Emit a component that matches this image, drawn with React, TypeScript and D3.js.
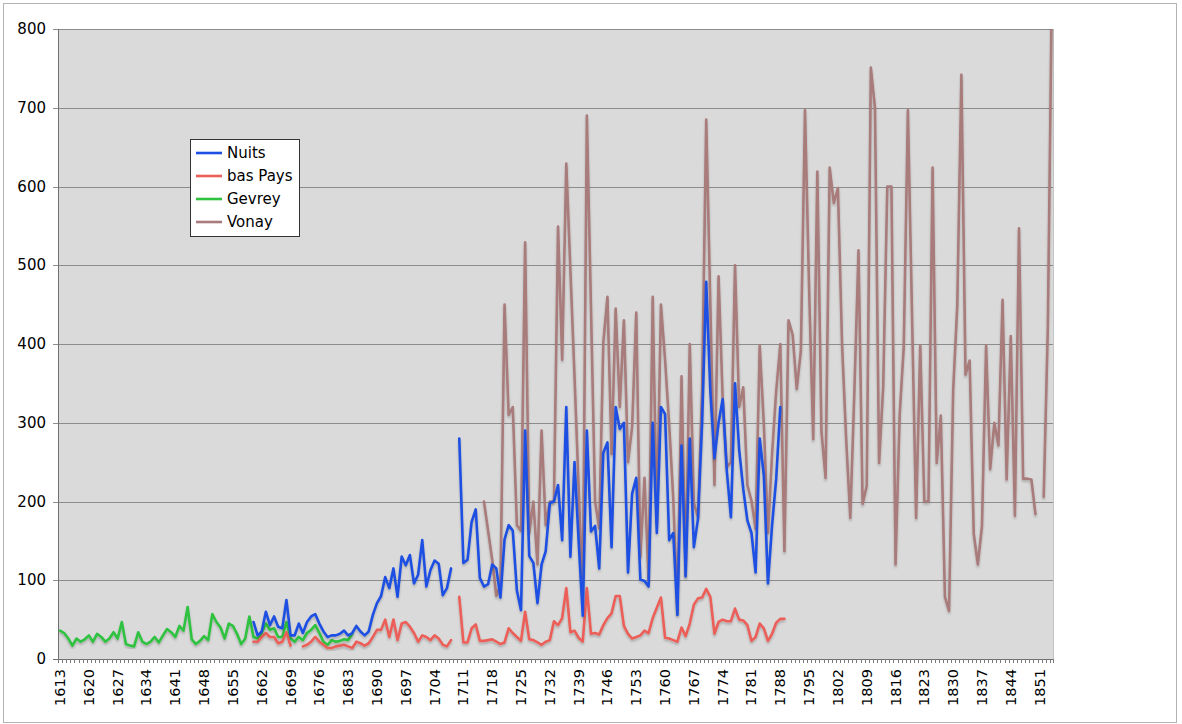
import React from "react";
import * as d3 from "d3";

const firstYear = 1613;
const lastYear = 1854;
const yTicks = [0, 100, 200, 300, 400, 500, 600, 700, 800];
const labelStep = 7;

const gevreyStart = 1613;
const gevrey = [
  36, 33, 26, 17, 26, 22, 25, 30, 22, 32,
  28, 22, 26, 34, 26, 47, 19, 17, 16, 34,
  22, 19, 22, 28, 21, 30, 38, 34, 28, 42,
  36, 66, 25, 19, 23, 29, 24, 57, 47, 40,
  26, 45, 42, 32, 19, 26, 54, 28, 26, 33,
  45, 37, 39, 28, 28, 47, 26, 22, 28, 24,
  33, 37, 43, 33, 22, 18, 24, 22, 23, 25,
  24, 32,
];

const nuitsStart = 1660;
const nuits = [
  47, 30, 35, 60, 43, 54, 41, 39, 75, 30,
  30, 45, 33, 47, 54, 57, 45, 35, 28, 30,
  30, 32, 36, 30, 33, 42, 35, 30, 35, 56,
  71, 80, 104, 90, 115, 79, 130, 119, 132, 96,
  107, 151, 92, 113, 125, 121, 81, 90, 115, null,
  280, 122, 126, 174, 190, 103, 92, 95, 120, 115,
  78, 152, 170, 163, 87, 62, 290, 131, 122, 71,
  120, 137, 198, 200, 221, 151, 320, 130, 250, 150,
  55, 290, 162, 169, 115, 262, 275, 142, 320, 292,
  300, 110, 210, 230, 101, 99, 92, 300, 160, 320,
  311, 151, 160, 56, 271, 105, 280, 142, 178, 300,
  479, 340, 255, 300, 330, 239, 180, 350, 266, 216,
  176, 160, 110, 280, 233, 96, 170, 229, 320,
];

const basPaysStart = 1660;
const basPays = [
  22, 22, 28, 33, 28, 28, 20, 22, 34, 17,
  null, null, 16, 18, 22, 28, 22, 18, 14, 14,
  16, 17, 18, 16, 14, 22, 20, 17, 20, 28,
  37, 37, 50, 28, 50, 24, 45, 47, 41, 33,
  22, 30, 28, 24, 30, 26, 18, 16, 24, null,
  79, 21, 21, 39, 44, 23, 23, 24, 25, 22,
  19, 21, 39, 33, 28, 23, 60, 25, 24, 21,
  18, 22, 24, 48, 43, 52, 90, 34, 36, 27,
  22, 90, 32, 33, 31, 43, 52, 58, 80, 80,
  42, 32, 26, 28, 30, 36, 33, 52, 65, 78,
  27, 26, 24, 22, 40, 29, 45, 69, 77, 78,
  89, 79, 32, 47, 50, 48, 48, 64, 50, 49,
  43, 23, 28, 45, 39, 23, 32, 46, 51, 51,
];

const vonayStart = 1716;
const vonay = [
  200, 163, 126, 80,
  94, 450, 310, 320, 170, 163, 529, 160, 200, 120,
  290, 170, 200, 200, 549, 380, 629, 494, 359, 218,
  78, 690, 446, 200, 166, 402, 460, 260, 445, 320,
  430, 250, 295, 440, 130, 230, 100, 460, 172, 450,
  380, 298, 203, 58, 359, 105, 400, 198, 180, 340,
  685, 450, 221, 486, 330, 244, 250, 500, 320, 345,
  221, 201, 165, 398, 298, 160, 260, 340, 400, 137,
  430, 412, 343, 392, 697, 470, 279, 619, 289, 230,
  624, 579, 598, 400, 280, 179, 340, 519, 197, 220,
  751, 700, 249, 346, 600, 600, 120, 310, 397, 697,
  438, 179, 398, 200, 200, 624, 249, 309, 79, 61,
  341, 449, 742, 361, 379, 159, 120, 169, 398, 241,
  300, 271, 456, 228, 410, 182, 547, 229, 229, 228,
  184, null, 206, 420, 860,
];

const seriesNames = ["Nuits", "bas Pays", "Gevrey", "Vonay"];
const seriesColors = ["#1d4fe2", "#eb5f58", "#2fc23f", "#a97b7c"];
const seriesData = [
  { start: nuitsStart, values: nuits },
  { start: basPaysStart, values: basPays },
  { start: gevreyStart, values: gevrey },
  { start: vonayStart, values: vonay },
];
const drawOrder = [3, 2, 1, 0];

const W = 1182;
const H = 724;
const plot = { left: 58, right: 1054, top: 29, bottom: 659 };

export default function App() {
  const years = d3.range(firstYear, lastYear + 1);
  const x = d3
    .scaleBand<number>()
    .domain(years)
    .range([plot.left, plot.right])
    .paddingInner(0)
    .paddingOuter(0);
  const bw = x.bandwidth();
  const cx = (yr: number) => (x(yr) as number) + bw / 2;
  const y = d3.scaleLinear().domain([0, 800]).range([plot.bottom, plot.top]);

  const line = d3
    .line<{ yr: number; v: number | null }>()
    .defined((d) => d.v != null)
    .x((d) => cx(d.yr))
    .y((d) => y(d.v as number));

  const font = "'DejaVu Sans', Verdana, sans-serif";
  const labelYears = years.filter((yr) => (yr - firstYear) % labelStep === 0);

  const legendRows = seriesNames.map((n, i) => ({ name: n, color: seriesColors[i], y: 153 + i * 23 }));

  return (
    <svg
      width={W}
      height={H}
      style={{ position: "absolute", left: 0, top: 0, background: "#fff" }}
    >
      <defs>
        <clipPath id="plotClip">
          <rect x={plot.left} y={plot.top} width={plot.right - plot.left} height={plot.bottom - plot.top} />
        </clipPath>
        <filter id="shadow" x="-5%" y="-5%" width="110%" height="110%">
          <feDropShadow dx="0" dy="2" stdDeviation="1" floodColor="#000" floodOpacity="0.22" />
        </filter>
      </defs>
      <rect x={3.5} y={3.5} width={1173} height={719} fill="#fff" stroke="#b4b4b4" strokeWidth={1} />
      <rect
        x={plot.left}
        y={plot.top}
        width={plot.right - plot.left}
        height={plot.bottom - plot.top}
        fill="#dadada"
      />
      {yTicks.map((t) => (
        <g key={t}>
          <line
            x1={plot.left - 5}
            x2={plot.right}
            y1={Math.round(y(t)) + 0.5}
            y2={Math.round(y(t)) + 0.5}
            stroke={t === 0 ? "#6f6f6f" : "#8c8c8c"}
            strokeWidth={1}
          />
          <text
            x={46}
            y={y(t)}
            textAnchor="end"
            dominantBaseline="central"
            fontFamily={font}
            fontSize={15}
            fill="#000"
          >
            {t}
          </text>
        </g>
      ))}
      <line x1={plot.left + 0.5} x2={plot.left + 0.5} y1={plot.top} y2={plot.bottom} stroke="#6f6f6f" />
      <line x1={plot.right - 0.5} x2={plot.right - 0.5} y1={plot.top} y2={plot.bottom} stroke="#c4c4c4" />
      {years.map((yr) => (
        <line
          key={yr}
          x1={Math.round(x(yr) as number) + 0.5}
          x2={Math.round(x(yr) as number) + 0.5}
          y1={plot.bottom}
          y2={plot.bottom + 4}
          stroke="#7a7a7a"
          strokeWidth={1}
        />
      ))}
      <line x1={plot.right - 0.5} x2={plot.right - 0.5} y1={plot.bottom} y2={plot.bottom + 4} stroke="#7a7a7a" />
      {labelYears.map((yr) => (
        <text
          key={yr}
          transform={`translate(${cx(yr)},${669}) rotate(-90)`}
          textAnchor="end"
          dominantBaseline="central"
          fontFamily={font}
          fontSize={14.5}
          fill="#000"
        >
          {yr}
        </text>
      ))}
      <g clipPath="url(#plotClip)">
        {drawOrder.map((i) => {
          const s = seriesData[i];
          const pts = s.values.map((v, k) => ({ yr: s.start + k, v }));
          return (
            <path
              key={i}
              d={line(pts) || ""}
              fill="none"
              stroke={seriesColors[i]}
              strokeWidth={2.6}
              strokeLinejoin="round"
              strokeLinecap="round"
              filter="url(#shadow)"
            />
          );
        })}
      </g>
      <rect x={190.5} y={139.5} width={109} height={97} fill="#fff" stroke="#333" strokeWidth={1} />
      {legendRows.map((r) => (
        <g key={r.name}>
          <line x1={196} x2={222} y1={r.y} y2={r.y} stroke={r.color} strokeWidth={2.6} />
          <text
            x={227}
            y={r.y}
            dominantBaseline="central"
            fontFamily={font}
            fontSize={15}
            fill="#000"
          >
            {r.name}
          </text>
        </g>
      ))}
    </svg>
  );
}
